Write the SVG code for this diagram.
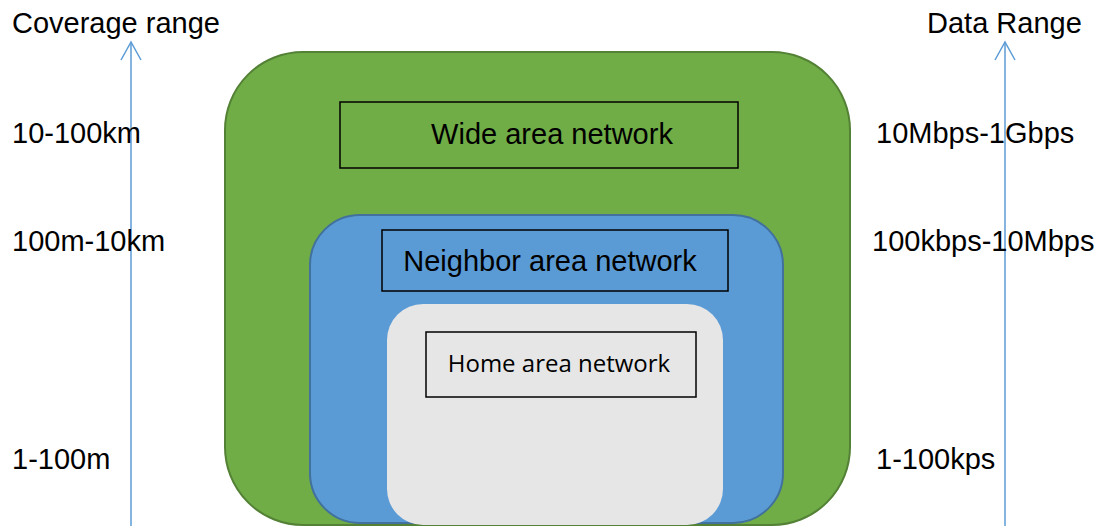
<svg xmlns="http://www.w3.org/2000/svg" width="1100" height="526" viewBox="0 0 1100 526">
<style>
.t{font-family:"Liberation Sans",Arial,sans-serif;font-size:29px;fill:#000}
.h{font-family:"Open Sans","Noto Sans",sans-serif;font-size:24px;fill:#000}
.box{fill:none;stroke:#000;stroke-width:1.5}
.ax{stroke:#5B9BD5;stroke-width:1.5;fill:none}
</style>
<defs>
<marker id="arr" markerWidth="24" markerHeight="24" refX="20" refY="12" orient="auto" markerUnits="userSpaceOnUse" viewBox="0 0 24 24">
<path d="M2,2 L20,12 L2,22" fill="none" stroke="#5B9BD5" stroke-width="1.5"/>
</marker>
</defs>
<rect width="1100" height="526" fill="#fff"/>
<g id="wan">
<rect x="225" y="52" width="625" height="473" rx="78" ry="78" fill="#70AD47" stroke="#538135" stroke-width="2"/>
<rect class="box" x="340" y="102" width="398" height="66"/>
<text class="t" x="552" y="144" text-anchor="middle">Wide area network</text>
</g>
<g id="nan">
<rect x="310" y="215" width="473" height="308" rx="50" ry="50" fill="#5B9BD5" stroke="#41719C" stroke-width="2"/>
<rect class="box" x="382" y="230" width="346" height="61"/>
<text class="t" x="550" y="271" text-anchor="middle">Neighbor area network</text>
</g>
<g id="han">
<rect x="387" y="304" width="336" height="221" rx="36" ry="36" fill="#E7E6E6"/>
<rect class="box" x="426" y="332" width="270" height="65"/>
<text class="h" x="559" y="372" text-anchor="middle">Home area network</text>
</g>
<g id="connectors">
<line class="ax" x1="131" y1="526" x2="131" y2="42" marker-end="url(#arr)"/>
<line class="ax" x1="1005" y1="526" x2="1005" y2="42" marker-end="url(#arr)"/>
</g>
<g id="labels">
<text class="t" x="12" y="33">Coverage range</text>
<text class="t" x="927" y="33">Data Range</text>
<text class="t" x="12" y="143">10-100km</text>
<text class="t" x="12" y="251">100m-10km</text>
<text class="t" x="12" y="469">1-100m</text>
<text class="t" x="876" y="143">10Mbps-1Gbps</text>
<text class="t" x="872" y="251">100kbps-10Mbps</text>
<text class="t" x="876" y="469">1-100kps</text>
</g>
</svg>
